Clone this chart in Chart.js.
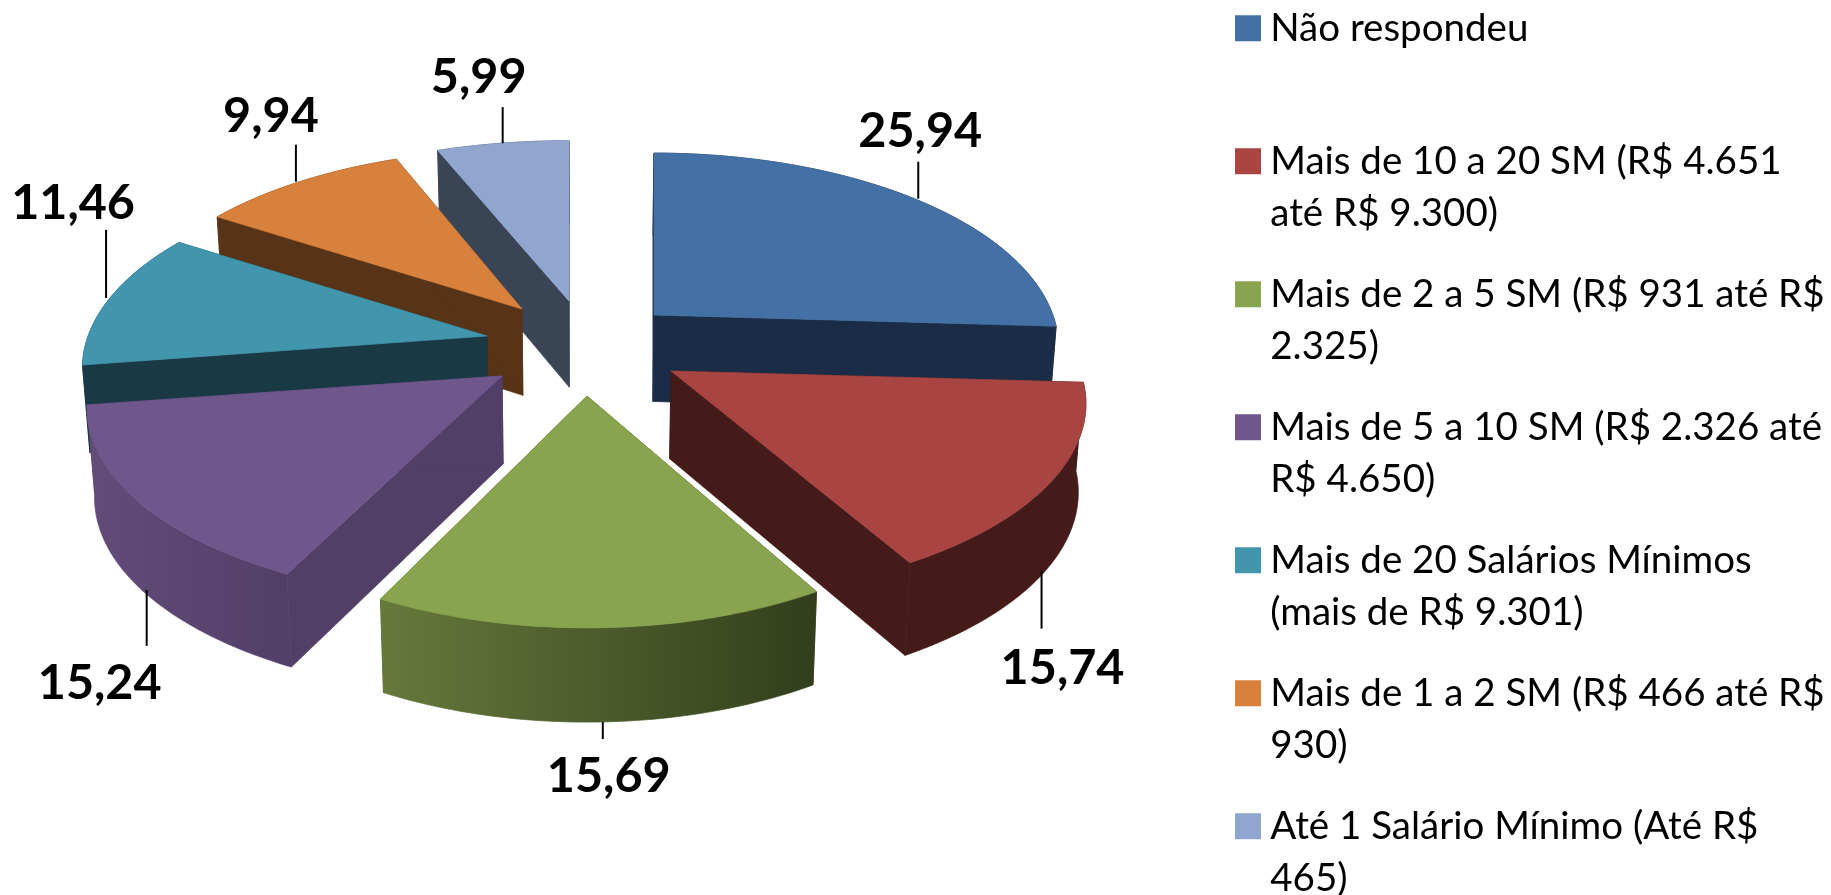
<!DOCTYPE html>
<html><head><meta charset="utf-8">
<style>html,body{margin:0;padding:0;background:#fff;overflow:hidden}canvas{display:block}</style>
<script src="https://cdn.jsdelivr.net/npm/chart.js@4/dist/chart.umd.min.js"></script>
</head><body>
<canvas id="c" width="1831" height="895" style="width:1831px;height:895px"></canvas>
<script>
const categories = [
  ['Não respondeu',''],
  ['Mais de 10 a 20 SM (R$ 4.651','até R$ 9.300)'],
  ['Mais de 2 a 5 SM (R$ 931 até R$','2.325)'],
  ['Mais de 5 a 10 SM (R$ 2.326 até','R$ 4.650)'],
  ['Mais de 20 Salários Mínimos','(mais de R$ 9.301)'],
  ['Mais de 1 a 2 SM (R$ 466 até R$','930)'],
  ['Até 1 Salário Mínimo (Até R$','465)']
];
const values = [25.94, 15.74, 15.69, 15.24, 11.46, 9.94, 5.99];
const topColors = ['#4471A5','#A84542','#88A44E','#6F578C','#4196AE','#D8813C','#91A6CE'];

// 3D look of the pie (styling only)
const look = {
  wall: ['#1B2D46','#441B19','#3F4D24','#523F68','#193A45','#573317','#394455'],
  rim: [['#1B2D46','#1B2D46'],['#441B19','#441B19'],['#66793B','#323E1C'],['#624C78','#523F68'],
        ['#193A45','#193A45'],['#573317','#573317'],['#394455','#394455']],
  explode: [[73,-32],[90,24],[6,49],[-79,29],[-94,-11],[-59,-38],[-12,-46]],
  tune: [[0.985,1],[1.01,1],[0.97,1.02],[1.01,0.995],[0.985,1],[0.975,0.985],[1.02,0.99]],
  order: [6,0,5,4,3,1,2],
  scaleX: 1.167, scaleY: 0.545, persp: 0.168, depth: 85, depthGrow: 0.025, converge: 0.015,
  // leader length, label dx, label dy, leader x shift
  leader: [[-37,2,-30,4],[58,21,40,-4],[17,6,37,2],[56,-47,37,5],[-68,-33,-27,-4],[-37,-25,-28,-4],[-36,-24,-30,0]]
};

const pie3d = {
  id: 'pie3d',
  beforeLayout(chart) {
    const l = chart.legend;
    if (l && !l._wrapped) {
      const f = l.fit;
      l.fit = function () { this.maxHeight = 2000; f.call(this); this.width = 617; };
      l._wrapped = true;
    }
  },
  afterLayout(chart) {
    const l = chart.legend;
    l.left = 1217; l.top = -19; l.bottom = 2000; l.right = 1900;
  },
  beforeDatasetDraw() { return false; },
  afterDatasetsDraw(chart) {
    const ctx = chart.ctx, arcs = chart.getDatasetMeta(0).data;
    const proj = (arc, i, a) => {
      const x = Math.cos(a), y = -Math.sin(a), w = 1 + look.persp * y, R = arc.outerRadius;
      return [arc.x + look.explode[i][0] + R * look.scaleX * look.tune[i][0] * x / w,
              arc.y + look.explode[i][1] - R * look.scaleY * look.tune[i][1] * y / w];
    };
    const apex = (arc, i) => [arc.x + look.explode[i][0], arc.y + look.explode[i][1]];
    const down = (arc, p) => [p[0] - (p[0] - arc.x) * look.converge,
                              p[1] + look.depth + (p[1] - 257) * look.depthGrow];
    const poly = (pts, fill) => {
      ctx.beginPath();
      pts.forEach((p, k) => k ? ctx.lineTo(p[0], p[1]) : ctx.moveTo(p[0], p[1]));
      ctx.closePath();
      ctx.fillStyle = fill; ctx.strokeStyle = fill; ctx.lineWidth = 0.7; ctx.lineJoin = 'round';
      ctx.fill(); ctx.stroke();
    };
    look.order.forEach(i => {
      const arc = arcs[i], a0 = arc.startAngle, a1 = arc.endAngle, n = 60, rimPts = [];
      for (let k = 0; k <= n; k++) rimPts.push(proj(arc, i, a0 + (a1 - a0) * k / n));
      const c = apex(arc, i), cb = down(arc, c);
      const s = rimPts[0], e = rimPts[n];
      poly([c, s, down(arc, s), cb], look.wall[i]);
      poly([c, e, down(arc, e), cb], look.wall[i]);
      const band = rimPts.concat(rimPts.slice().reverse().map(p => down(arc, p)));
      const xs = rimPts.map(p => p[0]);
      const g = ctx.createLinearGradient(Math.min(...xs), 0, Math.max(...xs), 0);
      g.addColorStop(0, look.rim[i][0]); g.addColorStop(1, look.rim[i][1]);
      poly(band, g);
      poly([c].concat(rimPts), arc.options.backgroundColor);
    });
    // leader lines and value labels
    ctx.font = 'bold 48.5px Lato';
    ctx.textAlign = 'center'; ctx.textBaseline = 'middle';
    arcs.forEach((arc, i) => {
      const mid = (arc.startAngle + arc.endAngle) / 2;
      let p = proj(arc, i, mid);
      if (Math.sin(mid) > 0) p = down(arc, p);
      const [len, dx, dy, sx] = look.leader[i];
      const lx = p[0] + sx;
      ctx.strokeStyle = '#000'; ctx.lineWidth = 2;
      ctx.beginPath(); ctx.moveTo(lx, p[1]); ctx.lineTo(lx, p[1] + len); ctx.stroke();
      ctx.fillStyle = '#000';
      ctx.fillText(values[i].toFixed(2).replace('.', ','), lx + dx, p[1] + len + dy);
    });
  }
};

new Chart(document.getElementById('c'), {
  type: 'pie',
  data: { labels: categories, datasets: [{ data: values, backgroundColor: topColors, borderWidth: 0 }] },
  plugins: [pie3d],
  options: {
    responsive: false, animation: false,
    layout: { padding: { top: 0, left: 0, right: 52, bottom: 201 } },
    plugins: {
      tooltip: { enabled: false },
      legend: {
        position: 'right', align: 'start',
        labels: {
          color: '#000', padding: 28, boxWidth: 6, boxHeight: 6,
          font: { family: 'Lato', size: 38.5, lineHeight: '52.5px' },
          generateLabels(chart) {
            return Chart.overrides.pie.plugins.legend.labels.generateLabels(chart).map((it, i) => ({
              ...it, strokeStyle: topColors[i], fillStyle: topColors[i], lineWidth: 20, lineJoin: 'miter'
            }));
          }
        }
      }
    }
  }
});
</script>
</body></html>
